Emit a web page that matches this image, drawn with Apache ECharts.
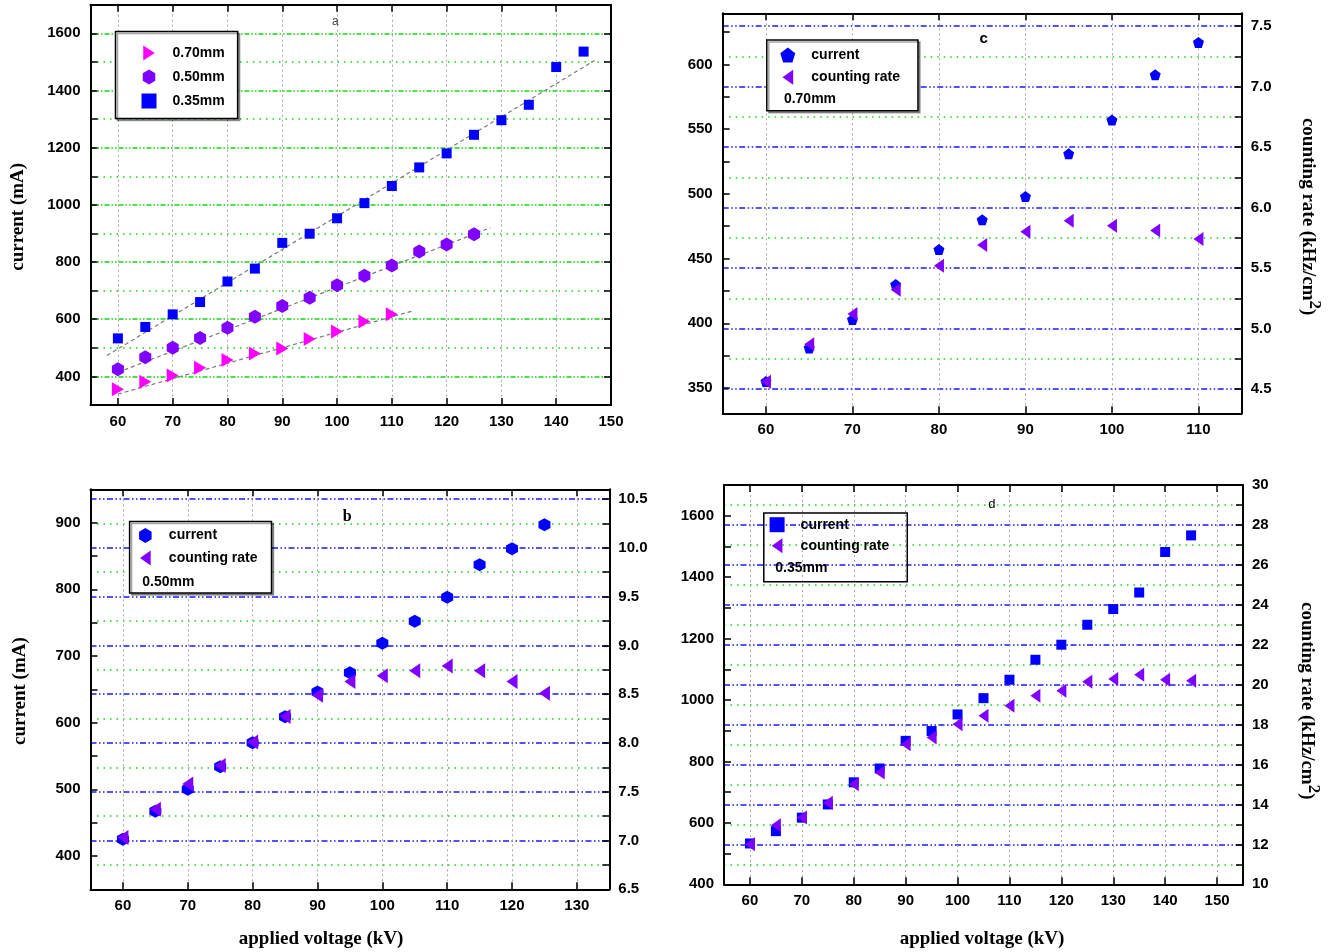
<!DOCTYPE html>
<html>
<head>
<meta charset="utf-8">
<title>Tube current and counting rate vs applied voltage</title>
<script src="https://cdn.jsdelivr.net/npm/echarts@6/dist/echarts.min.js"></script>
<style>
  html, body { margin: 0; padding: 0; background: #fff; }
  #chart { width: 1331px; height: 952px; }
</style>
</head>
<body>
<div id="chart"></div>
<script>
// ---- measured data -------------------------------------------------------
// applied voltage (kV) for each aperture
const voltage070 = [60, 65, 70, 75, 80, 85, 90, 95, 100, 105, 110];
const voltage050 = [60, 65, 70, 75, 80, 85, 90, 95, 100, 105, 110, 115, 120, 125];
const voltage035 = [60, 65, 70, 75, 80, 85, 90, 95, 100, 105, 110, 115, 120, 125, 130, 135, 140, 145];

// tube current (mA)
const current070 = [355, 381, 403, 430, 457, 480, 498, 531, 557, 592, 617];
const current050 = [425, 467, 500, 534, 570, 609, 646, 675, 719, 752, 788, 837, 861, 897];
const current035 = [533, 573, 617, 660, 732, 777, 867, 899, 953, 1006, 1066, 1131, 1180, 1245, 1296, 1350, 1482, 1536];

// counting rate (kHz/cm2)
const rate070 = [4.56, 4.87, 5.12, 5.32, 5.52, 5.69, 5.80, 5.89, 5.85, 5.81, 5.74];
const rate050 = [7.03, 7.32, 7.58, 7.77, 8.01, 8.27, 8.49, 8.63, 8.69, 8.74, 8.79, 8.74, 8.63, 8.51];
const rate035 = [12.0, 12.96, 13.34, 14.09, 15.01, 15.6, 17.02, 17.35, 18.02, 18.44, 18.94, 19.44, 19.69, 20.14, 20.28, 20.49, 20.24, 20.19];

// linear trend segments drawn in panel a (start, end)
const trendVoltage070 = [60, 114];
const trendCurrent070 = [338, 630];
const trendVoltage050 = [60, 128];
const trendCurrent050 = [414, 920];
const trendVoltage035 = [58, 147];
const trendCurrent035 = [473, 1505];

// ---- tick values ---------------------------------------------------------
const voltageTicksA = [60, 70, 80, 90, 100, 110, 120, 130, 140, 150];
const voltageTicksC = [60, 70, 80, 90, 100, 110];
const voltageTicksB = [60, 70, 80, 90, 100, 110, 120, 130];
const voltageTicksD = [60, 70, 80, 90, 100, 110, 120, 130, 140, 150];

const currentLabelsA = [400, 600, 800, 1000, 1200, 1400, 1600];
const currentTicksA = [400, 500, 600, 700, 800, 900, 1000, 1100, 1200, 1300, 1400, 1500, 1600];

const currentLabelsC = [350, 400, 450, 500, 550, 600];
const currentTicksC = [350, 375, 400, 425, 450, 475, 500, 525, 550, 575, 600, 625];
const rateLabelsC = [4.5, 5.0, 5.5, 6.0, 6.5, 7.0, 7.5];
const rateTicksC = [4.5, 4.75, 5.0, 5.25, 5.5, 5.75, 6.0, 6.25, 6.5, 6.75, 7.0, 7.25, 7.5];

const currentLabelsB = [400, 500, 600, 700, 800, 900];
const currentTicksB = [400, 450, 500, 550, 600, 650, 700, 750, 800, 850, 900];
const rateLabelsB = [6.5, 7.0, 7.5, 8.0, 8.5, 9.0, 9.5, 10.0, 10.5];
const rateTicksB = [6.5, 6.75, 7.0, 7.25, 7.5, 7.75, 8.0, 8.25, 8.5, 8.75, 9.0, 9.25, 9.5, 9.75, 10.0, 10.25, 10.5];

const currentLabelsD = [400, 600, 800, 1000, 1200, 1400, 1600];
const currentTicksD = [400, 500, 600, 700, 800, 900, 1000, 1100, 1200, 1300, 1400, 1500, 1600];
const rateLabelsD = [10, 12, 14, 16, 18, 20, 22, 24, 26, 28, 30];
const rateTicksD = [10, 11, 12, 13, 14, 15, 16, 17, 18, 19, 20, 21, 22, 23, 24, 25, 26, 27, 28, 29, 30];

// ---- styling -------------------------------------------------------------
const SANS = '"Liberation Sans", Arial, sans-serif';
const SERIF = '"Liberation Serif", "Times New Roman", serif';
const BLUE = '#0000ff', VIOLET = '#8000ff', MAGENTA = '#ff00ff';
const GREEN_MAJOR = { color: '#10d810', width: 1.7, type: [5, 2, 1.5, 2, 1.5, 2] };
const GREEN_MINOR = { color: '#10d810', width: 1.5, type: [1.5, 5] };
const BLUE_LINE = { color: '#1a1aff', width: 1.5, type: [6, 2.5, 1.5, 2.5, 1.5, 2.5] };
const GRAY_LINE = { color: '#a8a8a8', width: 1, type: [2, 3] };

const SYMBOL = {
  right: 'path://M0,0L10,6.5L0,13Z',
  left: 'path://M10,0L0,7L10,14Z',
  hex: 'path://M5,0L10,3L10,9L5,12L0,9L0,3Z',
  pent: 'path://M5,0L10,3.8L8.1,10L1.9,10L0,3.8Z'
};

const tickFont = { fontFamily: SANS, fontWeight: 'bold', fontSize: 15, color: '#000' };
const plain = v => String(v);
const oneDecimal = v => Number(v).toFixed(1);

function zip(xs, ys) { return xs.map((x, i) => [x, ys[i]]); }
function without(all, drop) { return all.filter(v => drop.indexOf(v) < 0); }

// ---- axes: each panel is a closed box (bottom/top x, left/right y) --------
const grids = [];
const xAxes = [];
const yAxes = [];

function panel(rect, xr, yl, yr, t) {
  const g = grids.length;
  grids.push({ left: rect[0], top: rect[1], width: rect[2], height: rect[3], containLabel: false, outerBoundsMode: 'none' });
  const axisLine = { show: true, onZero: false, lineStyle: { color: '#000', width: 2 } };
  const tick = vals => ({ show: true, inside: true, length: 7, customValues: vals, lineStyle: { color: '#000', width: 1.5 } });
  const off = { show: false };
  xAxes.push({ gridIndex: g, type: 'value', position: 'bottom', min: xr[0], max: xr[1], z: 3,
    axisLine, axisTick: tick(t.x),
    splitLine: { show: true, lineStyle: GRAY_LINE },
    axisLabel: Object.assign({ customValues: t.x, margin: 9, formatter: plain }, tickFont) });
  xAxes.push({ gridIndex: g, type: 'value', position: 'top', min: xr[0], max: xr[1], z: 3,
    axisLine, axisTick: tick(t.x), splitLine: off, axisLabel: off });
  yAxes.push({ gridIndex: g, type: 'value', position: 'left', min: yl[0], max: yl[1], z: 3,
    axisLine, axisTick: tick(t.yl), splitLine: off,
    axisLabel: Object.assign({ customValues: t.ylLabels, margin: 10, formatter: plain }, tickFont) });
  yAxes.push({ gridIndex: g, type: 'value', position: 'right', min: yr[0], max: yr[1], z: 3,
    axisLine, axisTick: tick(t.yr), splitLine: off,
    axisLabel: t.yrLabels ? Object.assign({ customValues: t.yrLabels, margin: 9, formatter: t.yrFormat }, tickFont) : off });
  return g;
}

const A = panel([90.5, 4.7, 520.5, 400.3], [55, 150], [300, 1700], [300, 1700],
  { x: voltageTicksA, yl: currentTicksA, ylLabels: currentLabelsA, yr: currentTicksA });
const C = panel([722.7, 13.3, 519, 400], [55, 115], [330.5, 639.5], [4.3, 7.605],
  { x: voltageTicksC, yl: currentTicksC, ylLabels: currentLabelsC, yr: rateTicksC, yrLabels: rateLabelsC, yrFormat: oneDecimal });
const B = panel([90.5, 489.3, 518.8, 400], [55, 135], [350, 950], [6.5, 10.6],
  { x: voltageTicksB, yl: currentTicksB, ylLabels: currentLabelsB, yr: rateTicksB, yrLabels: rateLabelsB, yrFormat: oneDecimal });
const D = panel([724, 485, 519, 399.3], [55, 155], [400, 1700], [10, 30],
  { x: voltageTicksD, yl: currentTicksD, ylLabels: currentLabelsD, yr: rateTicksD, yrLabels: rateLabelsD, yrFormat: plain });

// horizontal gridlines are drawn as mark lines behind the markers
function gridLines(major, minor, majorStyle, minorStyle) {
  const data = [];
  major.forEach(v => data.push({ yAxis: v, lineStyle: majorStyle }));
  minor.forEach(v => data.push({ yAxis: v, lineStyle: minorStyle }));
  return { z: 1, silent: true, animation: false, symbol: ['none', 'none'], label: { show: false },
    emphasis: { disabled: true }, data };
}

function axesOf(g, right) { return { xAxisIndex: 2 * g, yAxisIndex: 2 * g + (right ? 1 : 0) }; }
function marks(name, g, right, xs, ys, symbol, size, color) {
  return Object.assign({ type: 'scatter', name, data: zip(xs, ys), symbol, symbolSize: size, z: 4,
    itemStyle: { color, opacity: 1 }, emphasis: { disabled: true } }, axesOf(g, right));
}

const series = [];

// panel a: current for three apertures with linear trends
series.push(Object.assign({ type: 'scatter', data: [],
  markLine: gridLines(currentLabelsA, without(currentTicksA, currentLabelsA), GREEN_MAJOR, GREEN_MINOR) }, axesOf(A)));
[[trendVoltage070, trendCurrent070], [trendVoltage050, trendCurrent050], [trendVoltage035, trendCurrent035]].forEach(tr => {
  series.push(Object.assign({ type: 'line', data: zip(tr[0], tr[1]), symbol: 'none', silent: true, z: 3,
    lineStyle: { color: '#7a7a7a', width: 1.2, type: [4, 3] } }, axesOf(A)));
});
series.push(marks('0.70mm', A, false, voltage070, current070, SYMBOL.right, [12, 14], MAGENTA));
series.push(marks('0.50mm', A, false, voltage050, current050, SYMBOL.hex, [12, 14], VIOLET));
series.push(marks('0.35mm', A, false, voltage035, current035, 'rect', 10, BLUE));

// panel c: 0.70mm
series.push(Object.assign({ type: 'scatter', data: [],
  markLine: gridLines(rateLabelsC, without(rateTicksC, rateLabelsC), BLUE_LINE, GREEN_MINOR) }, axesOf(C, true)));
series.push(marks('current (0.70mm)', C, false, voltage070, current070, SYMBOL.pent, 11, BLUE));
series.push(marks('counting rate (0.70mm)', C, true, voltage070, rate070, SYMBOL.left, [10, 14], VIOLET));

// panel b: 0.50mm
series.push(Object.assign({ type: 'scatter', data: [],
  markLine: gridLines(without(rateLabelsB, [6.5]), without(rateTicksB, rateLabelsB), BLUE_LINE, GREEN_MINOR) }, axesOf(B, true)));
series.push(marks('current (0.50mm)', B, false, voltage050, current050, SYMBOL.hex, [12, 13], BLUE));
series.push(marks('counting rate (0.50mm)', B, true, voltage050, rate050, SYMBOL.left, [11, 15], VIOLET));

// panel d: 0.35mm
series.push(Object.assign({ type: 'scatter', data: [],
  markLine: gridLines(without(rateLabelsD, [10, 30]), without(rateTicksD, rateLabelsD), BLUE_LINE, GREEN_MINOR) }, axesOf(D, true)));
series.push(marks('current (0.35mm)', D, false, voltage035, current035, 'rect', 10, BLUE));
series.push(marks('counting rate (0.35mm)', D, true, voltage035, rate035, SYMBOL.left, [10, 14], VIOLET));

// ---- legends -------------------------------------------------------------
function legendBox(names, left, top, padding, gap, opaque) {
  return {
    data: names, left, top, orient: 'vertical', selectedMode: false,
    itemWidth: 15, itemHeight: 15, itemGap: gap, padding,
    formatter: name => name.replace(/ \(\d\.\d\dmm\)$/, ''),
    textStyle: { fontFamily: SANS, fontWeight: 'bold', fontSize: 14, color: '#000', padding: [0, 0, 0, 11] },
    borderColor: '#000', borderWidth: 1.5,
    backgroundColor: opaque ? '#fff' : 'transparent',
    shadowColor: opaque ? 'rgba(0,0,0,0.35)' : 'transparent', shadowOffsetX: 2, shadowOffsetY: 2
  };
}

const legends = [
  legendBox(['0.70mm', '0.50mm', '0.35mm'], 115.5, 31.5, [14, 13, 10, 26], 9, true),
  legendBox(['current (0.70mm)', 'counting rate (0.70mm)'], 766.8, 40, [7.5, 18, 26, 13.5], 7.3, true),
  legendBox(['current (0.50mm)', 'counting rate (0.50mm)'], 129.6, 521.4, [6.5, 14, 27.5, 9.5], 7.7, true),
  legendBox(['current (0.35mm)', 'counting rate (0.35mm)'], 763.8, 513, [4.2, 18, 28.5, 5.8], 6, false)
];

// ---- free text: titles, panel letters, aperture notes ----------------------
function txt(x, y, text, font, opts) {
  const o = opts || {};
  return { type: 'text', x, y, rotation: o.rotation || 0, silent: true, z: 10,
    style: { text, font, fill: o.fill || '#000', align: o.align || 'center', verticalAlign: 'middle' } };
}
const titleFont = 'bold 19px ' + SERIF;
const noteFont = 'bold 14px ' + SANS;
const rateTitle = (x, y) => ({
  type: 'text', x, y, rotation: -Math.PI / 2, silent: true, z: 10,
  style: {
    text: '{t|counting rate (kHz/cm}{s|2}{t|)}', align: 'center', verticalAlign: 'middle',
    rich: {
      t: { fontFamily: SERIF, fontWeight: 'bold', fontSize: 19, lineHeight: 30, fill: '#000' },
      s: { fontFamily: SERIF, fontWeight: 'bold', fontSize: 17, lineHeight: 16, verticalAlign: 'top', fill: '#000' }
    }
  }
});

const graphics = [
  txt(18.2, 216.8, 'current (mA)', titleFont, { rotation: Math.PI / 2 }),
  txt(20.2, 691.1, 'current (mA)', titleFont, { rotation: Math.PI / 2 }),
  txt(321.1, 938.8, 'applied voltage (kV)', titleFont),
  txt(982, 939.4, 'applied voltage (kV)', titleFont),
  rateTitle(1308, 216.6),
  rateTitle(1307, 700.8),
  txt(335.4, 21.4, 'a', '12px ' + SANS, { fill: '#444' }),
  txt(983.7, 39, 'c', 'bold 15px ' + SANS),
  txt(347.2, 517.1, 'b', 'bold 16px ' + SERIF),
  txt(991.9, 504, 'd', '13px ' + SANS),
  txt(783.9, 99, '0.70mm', noteFont, { align: 'left' }),
  txt(142.3, 581.7, '0.50mm', noteFont, { align: 'left' }),
  txt(775.3, 568.4, '0.35mm', noteFont, { align: 'left' })
];

const chart = echarts.init(document.getElementById('chart'), null, { renderer: 'canvas' });
chart.setOption({
  backgroundColor: '#fff',
  animation: false,
  grid: grids,
  xAxis: xAxes,
  yAxis: yAxes,
  legend: legends,
  series,
  graphic: graphics
});
</script>
</body>
</html>
